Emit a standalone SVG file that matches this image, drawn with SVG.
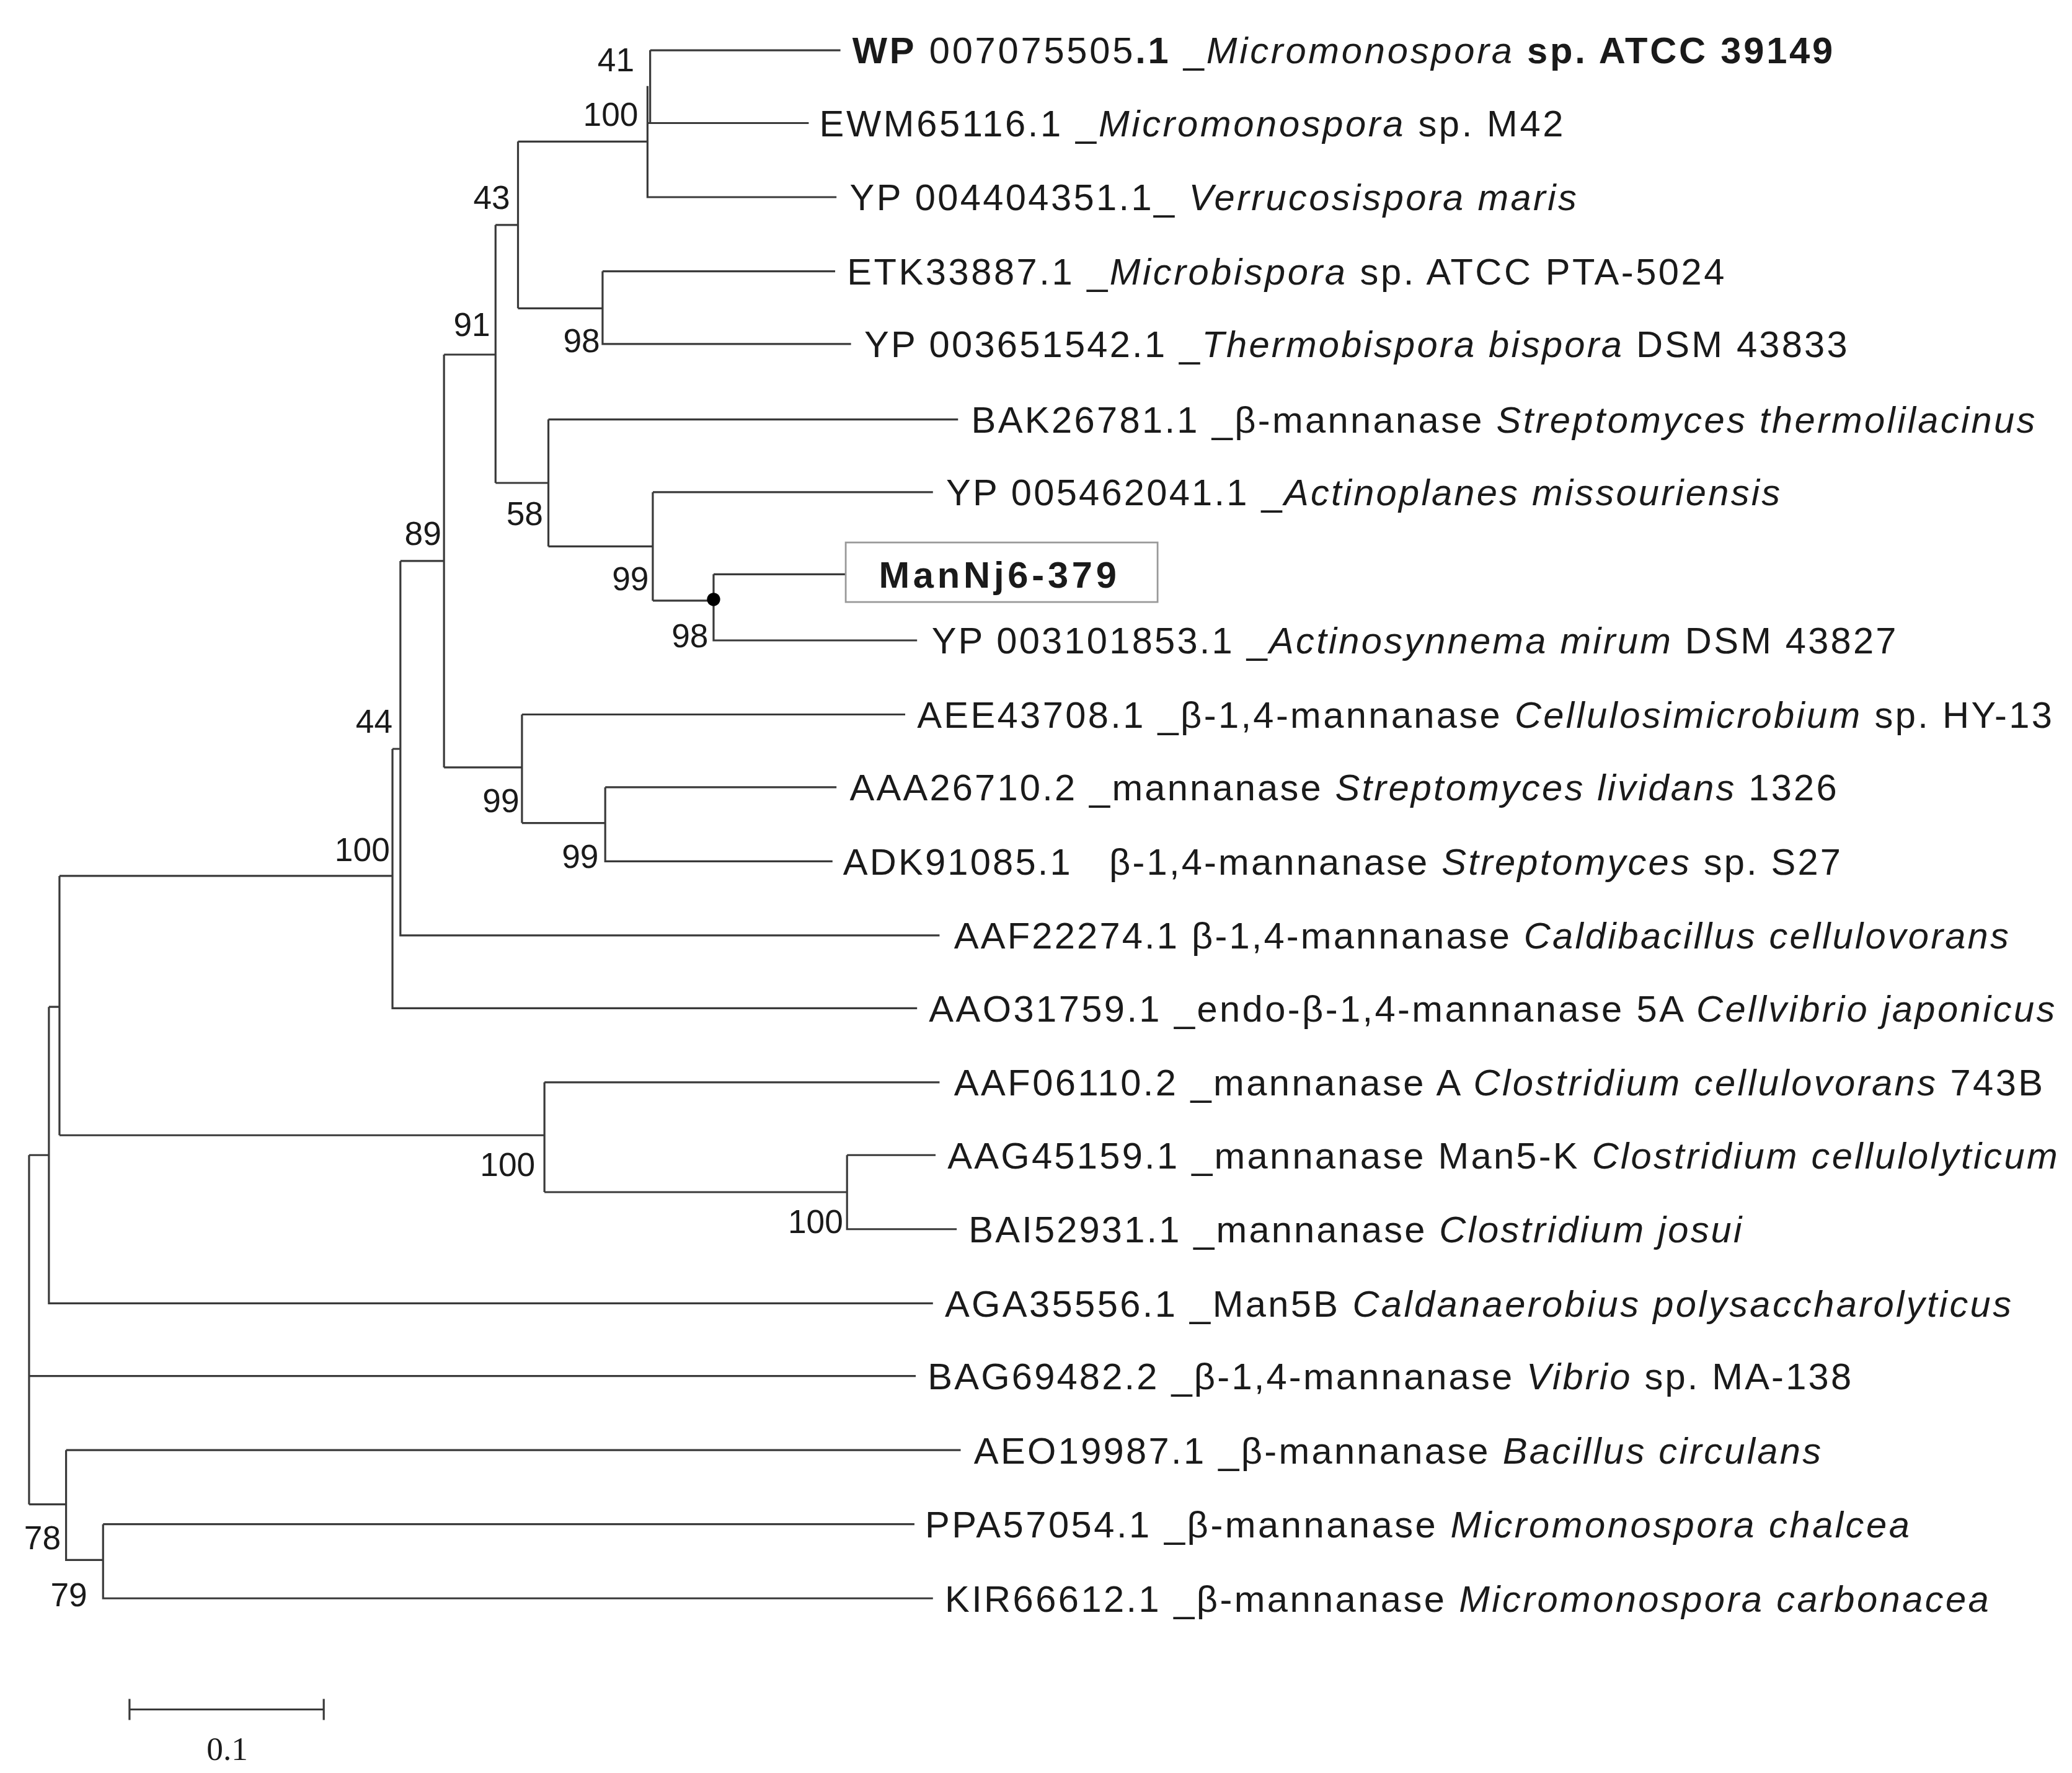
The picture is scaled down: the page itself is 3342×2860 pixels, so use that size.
<svg xmlns="http://www.w3.org/2000/svg" width="3342" height="2860" viewBox="0 0 3342 2860">
<style>
.br{stroke:#3a3a3a;stroke-width:1.5;fill:none}
.lf{font-family:"Liberation Sans",Arial,sans-serif;font-size:28px;fill:#1a1a1a}
.bs{font-family:"Liberation Sans",Arial,sans-serif;font-size:25px;fill:#1a1a1a;text-anchor:end}
.i{font-style:italic}
.b{font-weight:bold}
</style>
<rect width="3342" height="2860" fill="#fff"/>
<g transform="scale(2.1314,2.1343)">
<g id="connectors" class="br">
<path d="M492,38H636 M492,38V93 M490,93H612 M490,65V149H633 M392,107H490"/>
<path d="M456,205H632 M456,205V260H644 M392,233H456"/>
<path d="M392,107V233 M375,170H392"/>
<path d="M540,434H640 M540,434V484H694 M494,454H540"/>
<path d="M494,372H706 M494,372V454 M415,413H494"/>
<path d="M415,317H725 M415,317V413 M375,365H415"/>
<path d="M375,170V365 M336,268H375"/>
<path d="M458,595H633 M458,595V651H630 M395,622H458"/>
<path d="M395,540H685 M395,540V622 M336,580H395"/>
<path d="M336,268V580 M303,424H336"/>
<path d="M303,424V707H711 M297,566H303"/>
<path d="M297,566V762H694 M45,662H297"/>
<path d="M641,873H708 M641,873V929H724 M412,901H641"/>
<path d="M412,818H711 M412,818V901 M45,858H412"/>
<path d="M45,662V858 M37,761H45"/>
<path d="M37,761V985H706 M22,873H37"/>
<path d="M22,873V1137 M22,1040H693 M22,1137H50"/>
<path d="M50,1096H727 M50,1096V1179H78"/>
<path d="M78,1152H692 M78,1152V1208H706"/>
<path d="M98,1292H245 M98,1284V1300 M245,1284V1300"/>
</g>
<circle cx="540" cy="453" r="5" fill="#000"/>
<g id="labels">
<g id="n1"><text class="lf" x="645" y="48" textLength="742" lengthAdjust="spacing"><tspan class="b">WP</tspan> 007075505<tspan class="b">.1</tspan> _<tspan class="i">Micromonospora</tspan> <tspan class="b">sp. ATCC 39149</tspan></text></g>
<g id="n2"><text class="lf" x="620" y="103" textLength="563" lengthAdjust="spacing">EWM65116.1 _<tspan class="i">Micromonospora</tspan> sp. M42</text></g>
<g id="n3"><text class="lf" x="643" y="159" textLength="550" lengthAdjust="spacing">YP 004404351.1_ <tspan class="i">Verrucosispora maris</tspan></text></g>
<g id="n4"><text class="lf" x="641" y="215" textLength="664" lengthAdjust="spacing">ETK33887.1 _<tspan class="i">Microbispora</tspan> sp. ATCC PTA-5024</text></g>
<g id="n5"><text class="lf" x="654" y="270" textLength="744" lengthAdjust="spacing">YP 003651542.1 _<tspan class="i">Thermobispora bispora</tspan> DSM 43833</text></g>
<g id="n6"><text class="lf" x="735" y="327" textLength="805" lengthAdjust="spacing">BAK26781.1 _β-mannanase <tspan class="i">Streptomyces thermolilacinus</tspan></text></g>
<g id="n7"><text class="lf" x="716" y="382" textLength="631" lengthAdjust="spacing">YP 005462041.1 _<tspan class="i">Actinoplanes missouriensis</tspan></text></g>
<g id="n8"><rect x="640" y="410" width="236" height="45" fill="none" stroke="#999" stroke-width="1.3"/><text class="lf b" x="665" y="444" textLength="180" lengthAdjust="spacing">ManNj6-379</text></g>
<g id="n9"><text class="lf" x="705" y="494" textLength="730" lengthAdjust="spacing">YP 003101853.1 _<tspan class="i">Actinosynnema mirum</tspan> DSM 43827</text></g>
<g id="n10"><text class="lf" x="694" y="550" textLength="859" lengthAdjust="spacing">AEE43708.1 _β-1,4-mannanase <tspan class="i">Cellulosimicrobium</tspan> sp. HY-13</text></g>
<g id="n11"><text class="lf" x="643" y="605" textLength="747" lengthAdjust="spacing">AAA26710.2 _mannanase <tspan class="i">Streptomyces lividans</tspan> 1326</text></g>
<g id="n12"><text class="lf" x="638" y="661" textLength="755" lengthAdjust="spacing" xml:space="preserve">ADK91085.1   β-1,4-mannanase <tspan class="i">Streptomyces</tspan> sp. S27</text></g>
<g id="n13"><text class="lf" x="722" y="717" textLength="798" lengthAdjust="spacing">AAF22274.1 β-1,4-mannanase <tspan class="i">Caldibacillus cellulovorans</tspan></text></g>
<g id="n14"><text class="lf" x="703" y="772" textLength="852" lengthAdjust="spacing">AAO31759.1 _endo-β-1,4-mannanase 5A <tspan class="i">Cellvibrio japonicus</tspan></text></g>
<g id="n15"><text class="lf" x="722" y="828" textLength="824" lengthAdjust="spacing">AAF06110.2 _mannanase A <tspan class="i">Clostridium cellulovorans</tspan> 743B</text></g>
<g id="n16"><text class="lf" x="717" y="883" textLength="840" lengthAdjust="spacing">AAG45159.1 _mannanase Man5-K <tspan class="i">Clostridium cellulolyticum</tspan></text></g>
<g id="n17"><text class="lf" x="733" y="939" textLength="585" lengthAdjust="spacing">BAI52931.1 _mannanase <tspan class="i">Clostridium josui</tspan></text></g>
<g id="n18"><text class="lf" x="715" y="995" textLength="807" lengthAdjust="spacing">AGA35556.1 _Man5B <tspan class="i">Caldanaerobius polysaccharolyticus</tspan></text></g>
<g id="n19"><text class="lf" x="702" y="1050" textLength="699" lengthAdjust="spacing">BAG69482.2 _β-1,4-mannanase <tspan class="i">Vibrio</tspan> sp. MA-138</text></g>
<g id="n20"><text class="lf" x="737" y="1106" textLength="641" lengthAdjust="spacing">AEO19987.1 _β-mannanase <tspan class="i">Bacillus circulans</tspan></text></g>
<g id="n21"><text class="lf" x="700" y="1162" textLength="745" lengthAdjust="spacing">PPA57054.1 _β-mannanase <tspan class="i">Micromonospora chalcea</tspan></text></g>
<g id="n22"><text class="lf" x="715" y="1218" textLength="790" lengthAdjust="spacing">KIR66612.1 _β-mannanase <tspan class="i">Micromonospora carbonacea</tspan></text></g>
</g>
<g id="support">
<text class="bs" x="480" y="54">41</text>
<text class="bs" x="483" y="95">100</text>
<text class="bs" x="386" y="158">43</text>
<text class="bs" x="454" y="266">98</text>
<text class="bs" x="371" y="254">91</text>
<text class="bs" x="411" y="397">58</text>
<text class="bs" x="491" y="446">99</text>
<text class="bs" x="536" y="489">98</text>
<text class="bs" x="334" y="412">89</text>
<text class="bs" x="297" y="554">44</text>
<text class="bs" x="393" y="614">99</text>
<text class="bs" x="453" y="656">99</text>
<text class="bs" x="295" y="651">100</text>
<text class="bs" x="405" y="889">100</text>
<text class="bs" x="638" y="932">100</text>
<text class="bs" x="46" y="1171">78</text>
<text class="bs" x="66" y="1214">79</text>
<text x="172" y="1330" font-family="'Liberation Serif',serif" font-size="25" text-anchor="middle" fill="#1a1a1a">0.1</text>
</g>
</g>
</svg>
